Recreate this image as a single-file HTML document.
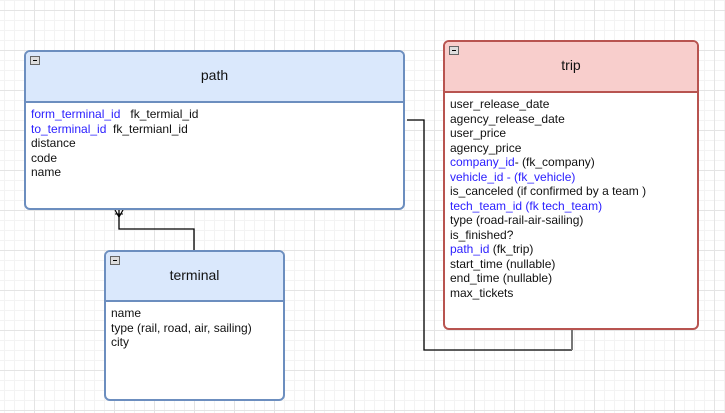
<!DOCTYPE html>
<html><head><style>
body{margin:0;width:725px;height:413px;overflow:hidden;font-family:"Liberation Sans",sans-serif;
background-color:#fff;
background-image:linear-gradient(#e4e4e4 1px,transparent 1px),linear-gradient(90deg,#e4e4e4 1px,transparent 1px),linear-gradient(#f3f3f3 1px,transparent 1px),linear-gradient(90deg,#f3f3f3 1px,transparent 1px);
background-size:40px 40px,40px 40px,10px 10px,10px 10px;
background-position:0 10px,34px 0,0 0,4px 0;}
.box{position:absolute;box-sizing:border-box;border:2px solid #6c8ebf;border-radius:6px;background:#fff;overflow:hidden}
.hd{background:#dae8fc;border-bottom:2px solid #6c8ebf;box-sizing:border-box;text-align:center;font-size:14px;color:#111;position:relative}
.mn{position:absolute;left:4px;top:4px;width:8px;height:7px;border:1px solid #666;background:#ddd}
.mn:after{content:"";position:absolute;left:2px;top:3px;width:4px;height:1px;background:#000}
.bd{font-size:12px;line-height:14.5px;color:#111;padding:4px 0 0 5px;white-space:pre}
.b{color:#2c20ff}
</style></head><body>
<svg width="725" height="413" style="position:absolute;left:0;top:0">
<polyline points="119,210 119,229 194,229 194,250" fill="none" stroke="#000" stroke-width="1.3"/>
<polyline points="115,210 119,217 123,210" fill="none" stroke="#000" stroke-width="1.2"/>
<line x1="115" y1="214" x2="123" y2="214" stroke="#000" stroke-width="1"/>
<polyline points="407,120 424,120 424,350 572,350" fill="none" stroke="#000" stroke-width="1.3"/>
<line x1="572" y1="350" x2="572" y2="329" stroke="#777" stroke-width="2"/>
</svg>
<div class="box" style="left:24px;top:50px;width:381px;height:160px">
<div class="hd" style="height:51px;line-height:47px"><div class="mn"></div>path</div>
<div class="bd"><span class="b">form_terminal_id</span>   fk_termial_id
<span class="b">to_terminal_id</span>  fk_termianl_id
distance
code
name</div></div>
<div class="box" style="left:104px;top:250px;width:181px;height:151px">
<div class="hd" style="height:50px;line-height:47px"><div class="mn"></div>terminal</div>
<div class="bd">name
type (rail, road, air, sailing)
city</div></div>
<div class="box" style="left:443px;top:40px;width:256px;height:290px;border-color:#b85450">
<div class="hd" style="height:51px;line-height:47px;background:#f8cecc;border-color:#b85450"><div class="mn"></div>trip</div>
<div class="bd">user_release_date
agency_release_date
user_price
agency_price
<span class="b">company_id</span>- (fk_company)
<span class="b">vehicle_id - (fk_vehicle)</span>
is_canceled (if confirmed by a team )
<span class="b">tech_team_id (fk tech_team)</span>
type (road-rail-air-sailing)
is_finished?
<span class="b">path_id</span> (fk_trip)
start_time (nullable)
end_time (nullable)
max_tickets</div></div>
</body></html>
